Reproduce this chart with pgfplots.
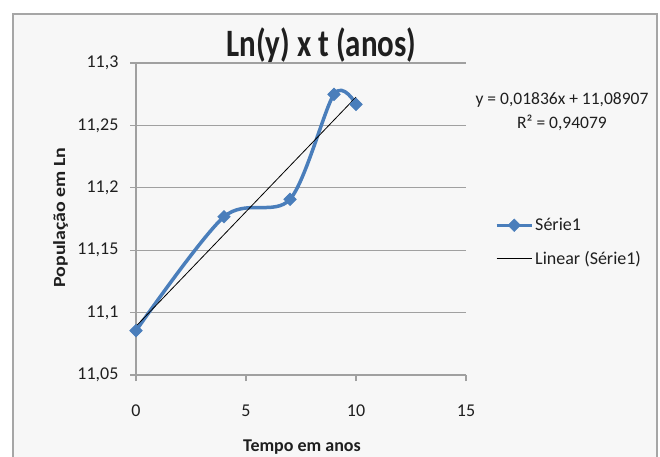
\documentclass[border=0pt]{standalone}
\usepackage{pgfplots}
\pgfplotsset{compat=1.18}
\usepackage{fontspec}
\setmainfont{Carlito}
\definecolor{bgc}{HTML}{F7F7F7}
\definecolor{bordc}{HTML}{A6A6A6}
\definecolor{gridc}{HTML}{A0A0A0}
\definecolor{serc}{HTML}{4A7EBB}
\definecolor{txt}{HTML}{1F1F1F}
\pgfplotsset{
  blueleg/.style={legend image code/.code={\draw[mark repeat=2, mark phase=2, ##1, line width=3pt] plot coordinates {(0pt,0pt) (17.5pt,0pt) (35pt,0pt)};}},
  blackleg/.style={legend image code/.code={\draw[##1] (0pt,0pt) -- (35pt,0pt);}},
}
\begin{document}
\begin{tikzpicture}[x=1pt,y=1pt]
\fill[white] (0,0) rectangle (660,456);
\useasboundingbox (0,0) rectangle (660,456);
\filldraw[fill=bgc, draw=bordc, line width=2pt] (13,-5) rectangle (657,442);
\begin{axis}[
  at={(136pt,81pt)}, anchor=south west, scale only axis,
  width=330pt, height=312pt,
  xmin=0, xmax=15, ymin=11.05, ymax=11.3,
  xtick={0,5,10,15}, ytick={11.05,11.1,11.15,11.2,11.25,11.3},
  axis x line*=bottom, axis y line*=left,
  axis line style={gridc, line width=1.2pt, -},
  ymajorgrids, major grid style={gridc, line width=1.2pt},
  tick style={gridc, line width=1.2pt},
  tick align=outside, major tick length=6pt,
  /pgf/number format/assume math mode=true,
  yticklabel style={/pgf/number format/.cd, use comma, fixed, precision=2, /tikz/.cd, xshift=-8pt},
  xticklabel style={yshift=-20pt},
  ticklabel style={font=\fontsize{18}{20}\selectfont, text=txt},
  clip=false,
  legend style={at={(1.088,0.426)}, anchor=west, draw=none, fill=none,
    inner sep=0pt, row sep=15pt, font=\fontsize{18}{20}\selectfont, text=txt,
    /tikz/every even column/.append style={column sep=0pt}},
  legend cell align=left,
]
\addplot[serc, line width=3.5pt, smooth, mark=square*, mark size=4.5pt,
  mark options={rotate=45, solid, fill=serc, line width=0.5pt}, blueleg]
  coordinates {(0,11.0855) (4,11.1768) (7,11.1908) (9,11.2749) (10,11.2669)};
\addlegendentry{Série1}
\addplot[black, line width=0.8pt, blackleg]
  coordinates {(0,11.08907) (10,11.27267)};
\addlegendentry{Linear (Série1)}
\end{axis}
\node[font=\fontsize{31}{34}\selectfont\bfseries, anchor=base, text=txt, inner sep=0pt] at (321.5,399) {\scalebox{1}[1.25]{Ln(y) x t (anos)}};
\node[font=\fontsize{17.5}{20}\selectfont, anchor=base, text=txt, inner sep=0pt] at (562,352) {y = 0,01836x + 11,08907};
\node[font=\fontsize{17.5}{20}\selectfont, anchor=base, text=txt, inner sep=0pt] at (562,327) {R² = 0,94079};
\node[font=\fontsize{17}{20}\selectfont\bfseries, rotate=90, anchor=base, text=txt, inner sep=0pt] at (65,238.5) {\scalebox{1.17}[1]{População em Ln}};
\node[font=\fontsize{18}{20}\selectfont\bfseries, anchor=base, text=txt, inner sep=0pt] at (302,5) {Tempo em anos};
\end{tikzpicture}
\end{document}
